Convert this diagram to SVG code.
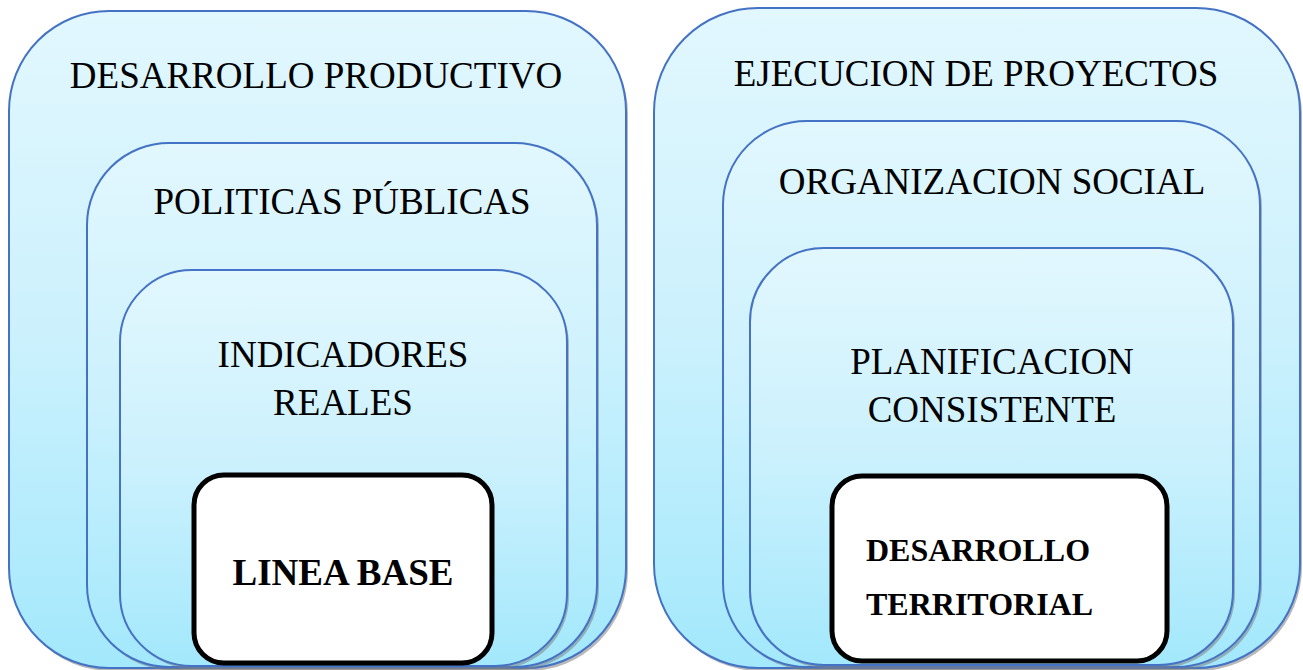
<svg xmlns="http://www.w3.org/2000/svg" width="1303" height="670" viewBox="0 0 1303 670">
<defs>
<linearGradient id="g" x1="0" y1="0" x2="0" y2="1">
<stop offset="0" stop-color="#E2F7FE"/>
<stop offset="0.5" stop-color="#CBF1FD"/>
<stop offset="1" stop-color="#A3E8FC"/>
</linearGradient>
</defs>
<style>
.b{fill:url(#g);stroke:#4472C4;stroke-width:2}
.s{fill:#808080;fill-opacity:0.55}
.w{fill:#fff;stroke:#000;stroke-width:5}
.t{font-family:"Times New Roman","Liberation Serif",serif;font-size:37px;fill:#000;text-anchor:middle}
.bt{font-family:"Times New Roman","Liberation Serif",serif;font-weight:bold;fill:#000}
</style>
<g id="desarrollo-productivo">
<rect class="s" x="11" y="14" width="617" height="657" rx="100" ry="100"/>
<rect class="b" x="9" y="11" width="617" height="657" rx="100" ry="100"/>
<text class="t" x="316" y="88">DESARROLLO PRODUCTIVO</text>
</g>
<g id="politicas-publicas">
<rect class="s" x="89" y="146" width="510" height="524" rx="82" ry="82"/>
<rect class="b" x="87" y="143" width="510" height="524" rx="82" ry="82"/>
<text class="t" x="342" y="214">POLITICAS PÚBLICAS</text>
</g>
<g id="indicadores-reales">
<rect class="s" x="122" y="273" width="447" height="396" rx="72" ry="72"/>
<rect class="b" x="120" y="270" width="447" height="396" rx="72" ry="72"/>
<text class="t" x="343" y="367">INDICADORES</text>
<text class="t" x="343" y="415">REALES</text>
</g>
<g id="linea-base">
<rect class="w" x="194" y="475" width="298" height="188" rx="30" ry="30"/>
<text class="bt" x="343" y="585" font-size="37" text-anchor="middle">LINEA BASE</text>
</g>
<g id="ejecucion-proyectos">
<rect class="s" x="656" y="11" width="646" height="660" rx="104" ry="104"/>
<rect class="b" x="654" y="8" width="646" height="660" rx="104" ry="104"/>
<text class="t" x="976" y="86">EJECUCION DE PROYECTOS</text>
</g>
<g id="organizacion-social">
<rect class="s" x="725" y="124" width="537" height="546" rx="84" ry="84"/>
<rect class="b" x="723" y="121" width="537" height="546" rx="84" ry="84"/>
<text class="t" x="992" y="194">ORGANIZACION SOCIAL</text>
</g>
<g id="planificacion-consistente">
<rect class="s" x="752" y="251" width="483" height="417" rx="74" ry="74"/>
<rect class="b" x="750" y="248" width="483" height="417" rx="74" ry="74"/>
<text class="t" x="992" y="374">PLANIFICACION</text>
<text class="t" x="992" y="422">CONSISTENTE</text>
</g>
<g id="desarrollo-territorial">
<rect class="w" x="832" y="476" width="335" height="185" rx="30" ry="30"/>
<text class="bt" x="866" y="561" font-size="32">DESARROLLO</text>
<text class="bt" x="866" y="615" font-size="32">TERRITORIAL</text>
</g>
<g id="connectors"/>
</svg>
